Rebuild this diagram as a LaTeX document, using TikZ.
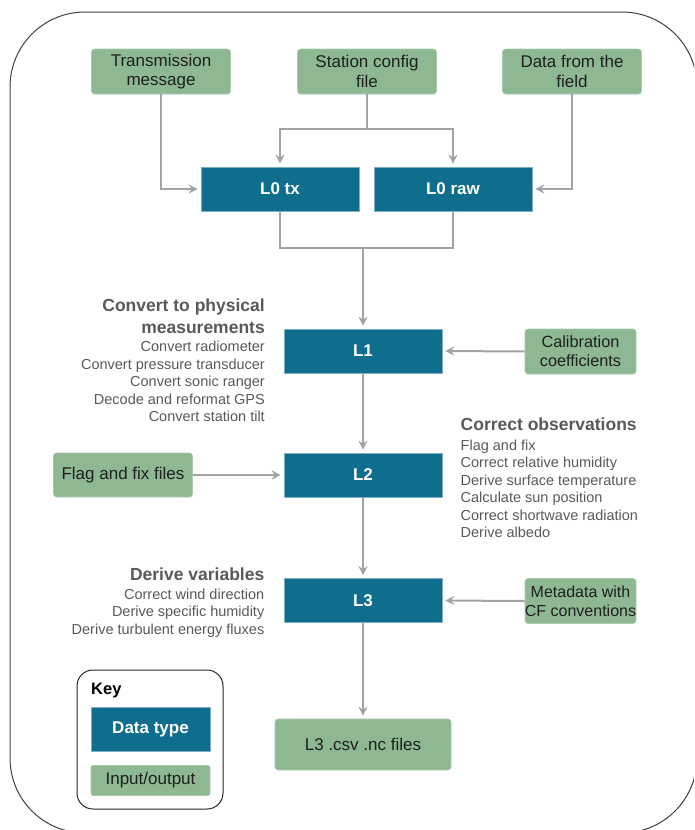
\documentclass[tikz,border=0pt]{standalone}
\usepackage{fontspec}
\setmainfont{Liberation Sans}
\usetikzlibrary{arrows.meta}
\definecolor{teal1}{HTML}{0F6E8E}
\definecolor{green1}{HTML}{8DB891}
\definecolor{arrgray}{HTML}{A3A3A3}
\definecolor{txtgray}{HTML}{595959}
\begin{document}
\begin{tikzpicture}[x=1pt,y=-1pt,
 databox/.style={fill=teal1, draw=teal1!55!white, line width=0.6pt, minimum width=158pt, minimum height=44pt, inner sep=0pt, text=white, font=\fontsize{17}{20}\selectfont\bfseries},
 iobox/.style={fill=green1, draw=green1!75!white, line width=0.6pt, rounded corners=3pt, inner sep=0pt, align=center, text=black!88, font=\fontsize{17}{19.3}\selectfont},
 arr/.style={draw=arrgray, line width=2pt, shorten >=3pt, -{Stealth[length=9pt,width=9pt,inset=3pt]}},
 ln/.style={draw=arrgray, line width=2pt},
 ttl/.style={text=txtgray, font=\fontsize{17.5}{21.5}\selectfont\bfseries, inner sep=0pt},
 lst/.style={text=txtgray, font=\fontsize{14.5}{17.5}\selectfont, inner sep=0pt}]
\useasboundingbox (0,0) rectangle (694,830);
\begin{scope}
\clip (0,0) rectangle (694,830);
\draw[draw=black!75, line width=1pt, rounded corners=75pt] (10,12) rectangle (697,833);
\end{scope}

% input boxes
\node[iobox, minimum width=139pt, minimum height=45pt] (tm) at (161,71.5) {Transmission\\message};
\node[iobox, minimum width=139pt, minimum height=45pt] (sc) at (367,71.5) {Station config\\file};
\node[iobox, minimum width=139pt, minimum height=45pt] (df) at (572,71.5) {Data from the\\field};

% data boxes
\node[databox] (l0tx) at (280,189) {L0 tx};
\node[databox] (l0raw) at (453,189) {L0 raw};
\node[databox] (l1) at (363,351) {L1};
\node[databox] (l2) at (363,475) {L2};
\node[databox] (l3) at (363,600.5) {L3};

\node[iobox, minimum width=111pt, minimum height=45pt, font=\fontsize{16.3}{19}\selectfont] (cal) at (580.5,351.5) {Calibration\\coefficients};
\node[iobox, minimum width=139pt, minimum height=44pt] (ff) at (123,475) {Flag and fix files};
\node[iobox, minimum width=111pt, minimum height=45pt, inner xsep=-2pt, font=\fontsize{16}{19}\selectfont] (md) at (580.5,601) {Metadata with\\CF conventions};
\node[iobox, minimum width=176pt, minimum height=51pt] (out) at (363,744.5) {L3 .csv .nc files};

% connectors
\coordinate (sj) at (367,129);
\draw[ln] (sc.south) -- (sj);
\draw[arr] (sj) -| (l0tx.north);
\draw[arr] (sj) -| (l0raw.north);
\draw[arr] (tm.south) |- (l0tx.west);
\draw[arr] (df.south) |- (l0raw.east);
\coordinate (bj) at (363,248);
\draw[ln] (l0tx.south) |- (bj) -| (l0raw.south);
\draw[arr] (bj) -- (l1.north);
\draw[arr] (cal.west) -- (l1.east);
\draw[arr] (l1.south) -- (l2.north);
\draw[arr] (ff.east) -- (l2.west);
\draw[arr] (l2.south) -- (l3.north);
\draw[arr] (md.west) -- (l3.east);
\draw[arr] (l3.south) -- (out.north);

% descriptions (base anchor = baseline of last line)
\node[ttl, anchor=base east, align=right] (t1) at (265,333) {Convert to physical\\measurements};
\node[lst, anchor=base east, align=right] (d1) at (265,421.7) {Convert radiometer\\Convert pressure transducer\\Convert sonic ranger\\Decode and reformat GPS\\Convert station tilt};
\node[ttl, anchor=base west, align=left] (t2) at (460.5,430) {Correct observations};
\node[lst, anchor=base west, align=left] (d2) at (460.5,537.5) {Flag and fix\\Correct relative humidity\\Derive surface temperature\\Calculate sun position\\Correct shortwave radiation\\Derive albedo};
\node[ttl, anchor=base east, align=right] (t3) at (264.5,580) {Derive variables};
\node[lst, anchor=base east, align=right] (d3) at (264.5,634) {Correct wind direction\\Derive specific humidity\\Derive turbulent energy fluxes};

% key
\node[draw=black!85, line width=1pt, rounded corners=16pt, minimum width=146pt, minimum height=139pt, inner sep=0pt] (key) at (150,739.5) {};
\node[anchor=base west, inner sep=0pt, font=\fontsize{16.5}{18}\selectfont\bfseries] (keyt) at (91,694) {Key};
\node[databox, minimum width=119pt, minimum height=44pt] (kd) at (150.5,729) {Data type};
\node[iobox, minimum width=119pt, minimum height=30pt, rounded corners=2pt] (ki) at (150.5,780.5) {Input/output};
\end{tikzpicture}
\end{document}
